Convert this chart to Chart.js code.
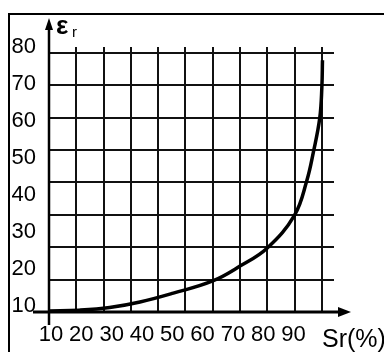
<!DOCTYPE html>
<html lang="en">
<head>
    <meta charset="UTF-8">
    <title>Er vs Sr</title>
    <script src="https://cdn.jsdelivr.net/npm/chart.js"></script>
    <style>
        body { margin: 0; background: #fff; }
        canvas { display: block; }
    </style>
</head>
<body>
    <canvas id="srChart" width="384" height="352"></canvas>
    <script>
        // curve: degree of saturation Sr (%) -> relative permittivity
        const srValues = [10, 20, 30, 40, 51, 64, 73, 82, 91, 95, 97.2, 99.3, 100, 100.2];
        const erValues = [10.3, 10.5, 11.2, 12.7, 15.1, 18.4, 22.4, 27.3, 36.2, 45.4, 53.2, 62.4, 70.8, 78];

        // tick labels
        const xLabels = [10, 20, 30, 40, 50, 60, 70, 80, 90];
        const yLabels = [10, 20, 30, 40, 50, 60, 70, 80];

        // grid lines as drawn in the figure (11 vertical, 9 horizontal)
        const xGrid = [10, 19, 28, 37, 46, 55, 64, 73, 82, 91, 100];
        const yGrid = [10, 18.75, 27.5, 36.25, 45, 53.75, 62.5, 71.25, 80];

        const xMin = 10, xMax = 104;
        const yMin = 10, yMax = 81.6;

        const sans = "'Liberation Sans', Arial, sans-serif";
        const ink = '#111';

        const decorPlugin = {
            id: 'decor',
            afterDraw(chart) {
                const ctx = chart.ctx;
                const xs = chart.scales.x;
                const ys = chart.scales.y;
                const ox = xs.getPixelForValue(10);
                const oy = ys.getPixelForValue(10);
                ctx.save();
                ctx.strokeStyle = '#000';
                ctx.fillStyle = '#000';

                // frame
                ctx.lineWidth = 2;
                ctx.beginPath();
                ctx.moveTo(9, 400);
                ctx.lineTo(9, 14);
                ctx.lineTo(400, 14);
                ctx.stroke();

                // y axis with arrow
                ctx.lineWidth = 2.5;
                ctx.beginPath();
                ctx.moveTo(ox, oy + 13);
                ctx.lineTo(ox, 28);
                ctx.stroke();
                ctx.beginPath();
                ctx.moveTo(ox, 18);
                ctx.lineTo(ox - 4, 30);
                ctx.lineTo(ox + 4, 30);
                ctx.closePath();
                ctx.fill();

                // x axis with arrow
                ctx.lineWidth = 3;
                ctx.beginPath();
                ctx.moveTo(33, oy);
                ctx.lineTo(340, oy);
                ctx.stroke();
                ctx.beginPath();
                ctx.moveTo(351, oy);
                ctx.lineTo(338, oy - 5);
                ctx.lineTo(338, oy + 5);
                ctx.closePath();
                ctx.fill();

                // axis names
                ctx.textBaseline = 'alphabetic';
                ctx.textAlign = 'left';
                ctx.font = 'bold 26px ' + sans;
                ctx.fillText('\u03b5', 56, 34);
                ctx.font = '15px ' + sans;
                ctx.fillText('r', 72, 37);
                ctx.font = '25px ' + sans;
                ctx.fillText('Sr(%)', 322, 347);
                ctx.restore();
            }
        };

        new Chart(document.getElementById('srChart'), {
            type: 'scatter',
            data: {
                datasets: [{
                    data: srValues.map((v, i) => ({ x: v, y: erValues[i] })),
                    showLine: true,
                    borderColor: '#000',
                    borderWidth: 3.5,
                    pointRadius: 0,
                    tension: 0.4
                }]
            },
            options: {
                responsive: false,
                animation: false,
                layout: { padding: { left: 0, top: 47, right: 50, bottom: 0 } },
                plugins: {
                    legend: { display: false },
                    tooltip: { enabled: false }
                },
                scales: {
                    x: {
                        type: 'linear', position: 'bottom', min: xMin, max: xMax,
                        grid: { display: false, drawTicks: false },
                        border: { display: false },
                        afterBuildTicks: s => { s.ticks = xLabels.map(v => ({ value: v })); },
                        afterFit: s => { s.height = 40; },
                        ticks: {
                            color: '#000', padding: 10, labelOffset: 2,
                            maxRotation: 0, autoSkip: false,
                            font: { family: sans, size: 22 }
                        }
                    },
                    xGrid: {
                        type: 'linear', position: 'bottom', min: xMin, max: xMax,
                        afterBuildTicks: s => { s.ticks = xGrid.map(v => ({ value: v })); },
                        afterFit: s => { s.height = 0; },
                        grid: { color: ink, lineWidth: 2, drawTicks: false },
                        border: { display: false },
                        ticks: { display: false }
                    },
                    y: {
                        type: 'linear', position: 'left', min: yMin, max: yMax,
                        grid: { display: false, drawTicks: false },
                        border: { display: false },
                        afterBuildTicks: s => { s.ticks = yLabels.map(v => ({ value: v })); },
                        afterFit: s => { s.width = 49; },
                        ticks: {
                            color: '#000', padding: 13, labelOffset: -6,
                            autoSkip: false,
                            font: { family: sans, size: 22 }
                        }
                    },
                    yGrid: {
                        type: 'linear', position: 'left', min: yMin, max: yMax,
                        afterBuildTicks: s => { s.ticks = yGrid.map(v => ({ value: v })); },
                        afterFit: s => { s.width = 0; },
                        grid: { color: ink, lineWidth: 2, drawTicks: false },
                        border: { display: false },
                        ticks: { display: false }
                    }
                }
            },
            plugins: [decorPlugin]
        });
    </script>
</body>
</html>
